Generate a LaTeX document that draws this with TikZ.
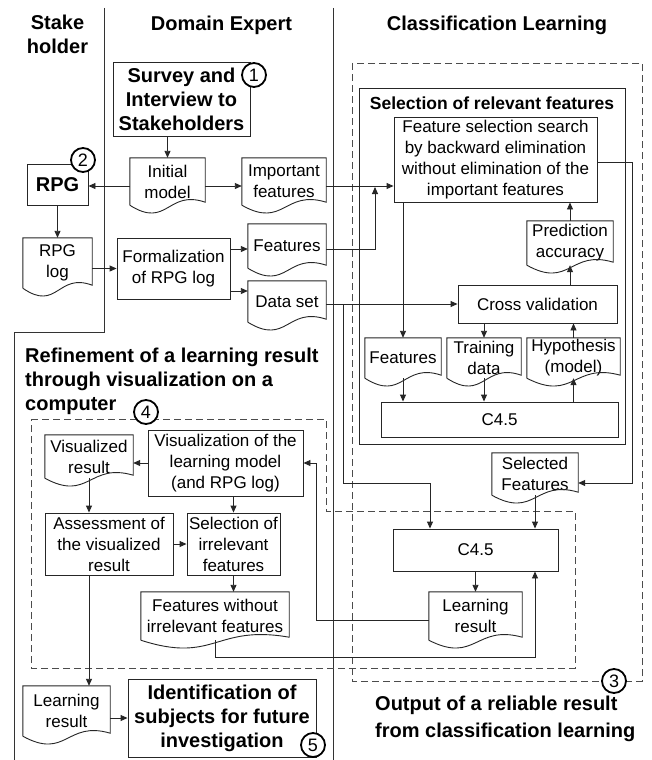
\documentclass[tikz,border=0pt]{standalone}
\usepackage{fontspec}
\setmainfont{Liberation Sans}
\usetikzlibrary{arrows.meta,calc}
\newcommand\bodyf{\fontsize{17}{21}\selectfont}
\newcommand\titf{\fontsize{20}{24}\selectfont\bfseries}
\newcommand\docout[1]{\draw[ln] (#1.south west) -- (#1.north west) -- (#1.north east) -- ($(#1.south east)+(0,-3)$) .. controls ($(#1.south)+(0,-16)$) and ($(#1.south)+(0,24)$) .. (#1.south west);}
\tikzset{
 ln/.style={draw=black!85, line width=0.9pt},
 arr/.style={ln, -{Triangle[length=7pt,width=6pt]}},
 box/.style={draw=black!85, line width=0.9pt, rectangle, inner sep=1pt, align=center, font=\bodyf},
 bbox/.style={box, font=\titf},
 docn/.style={rectangle, inner sep=0.5pt, align=center, font=\bodyf},
 numc/.style={circle, draw=black, line width=1.8pt, fill=white, minimum size=24pt, inner sep=0pt, font=\fontsize{18}{18}\selectfont},
 dbox/.style={draw=black!70, line width=0.9pt, dash pattern=on 7pt off 4pt},
 lane/.style={draw=black!80, line width=0.9pt},
 ttl/.style={font=\titf, align=center, inner sep=0pt},
}
\begin{document}
\begin{tikzpicture}[x=1pt,y=-1pt]
\fill[white] (0,0) rectangle (651,760);
\useasboundingbox (0,0) rectangle (651,760);
% lanes
\draw[lane] (104,8) -- (104,332) -- (14,332) -- (14,760);
\draw[lane] (333,8) -- (333,760);
% dashed regions
\draw[dbox] (352,63) rectangle (642,681);
\draw[dbox] (31,419) -- (326,419) -- (326,511) -- (575,511) -- (575,668) -- (31,668) -- cycle;
% selection container
\draw[ln] (359,88) rectangle (625,444);
\node[font=\fontsize{17.5}{21}\selectfont\bfseries, inner sep=0pt] (seltitle) at (492,103) {Selection of relevant features};
% headers
\node[ttl] (hStake) at (57.5,34) {Stake\\holder};
\node[ttl] (hDom) at (221.5,25) {Domain Expert};
\node[ttl] (hCls) at (497,25) {Classification Learning};
\node[ttl, align=left, anchor=west] (hRef) at (25,381) {Refinement of a learning result\\through visualization on a\\computer};
\node[ttl, align=left, anchor=west, font=\fontsize{20}{27}\selectfont\bfseries] (hOut) at (375,718.5) {Output of a reliable result\\from classification learning};
% process boxes
\node[bbox, minimum width=137, minimum height=74] (survey) at (181.5,99) {Survey and\\Interview to\\Stakeholders};
\node[bbox, minimum width=61, minimum height=41] (rpg) at (57.5,184.5) {RPG};
\node[box, minimum width=113, minimum height=61] (formal) at (173.5,268.5) {Formalization\\of RPG log};
\node[box, minimum width=203, minimum height=85] (fss) at (495.5,159.5) {Feature selection search\\by backward elimination\\without elimination of the\\important features};
\node[box, minimum width=159, minimum height=38] (cv) at (537.5,304) {Cross validation};
\node[box, minimum width=237, minimum height=35] (c45a) at (499.5,419.5) {C4.5};
\node[box, minimum width=165, minimum height=42] (c45b) at (475.5,550) {C4.5};
\node[box, minimum width=155, minimum height=66] (vis) at (225.5,463) {Visualization of the\\learning model\\(and RPG log)};
\node[box, minimum width=128, minimum height=62] (assess) at (109,544) {Assessment of\\the visualized\\result};
\node[box, minimum width=93, minimum height=62] (selirr) at (233.5,544) {Selection of\\irrelevant\\features};
\node[bbox, minimum width=188, minimum height=78] (ident) at (222,718) {Identification of\\subjects for future\\investigation};
% documents
\node[docn, minimum width=75, minimum height=47] (initmodel) at (167.5,181.5) {Initial\\model};
\node[docn, minimum width=84, minimum height=47] (impfeat) at (284,181.5) {Important\\features};
\node[docn, minimum width=69, minimum height=50] (rpglog) at (57.5,263) {RPG\\log};
\node[docn, minimum width=78, minimum height=44] (featA) at (287,246) {Features};
\node[docn, minimum width=78, minimum height=41] (dataset) at (287,301.5) {Data set};
\node[docn, minimum width=86, minimum height=44] (predacc) at (570,243) {Prediction\\accuracy};
\node[docn, minimum width=76, minimum height=40] (featB) at (403,358) {Features};
\node[docn, minimum width=74, minimum height=40] (train) at (484,358) {Training\\data};
\node[docn, minimum width=93, minimum height=40] (hyp) at (573.5,358) {Hypothesis\\(model)};
\node[docn, minimum width=86, minimum height=42] (selfeat) at (535,474) {Selected\\Features};
\node[docn, minimum width=93, minimum height=48] (lrn1) at (475.5,616) {Learning\\result};
\node[docn, minimum width=88, minimum height=43] (visres) at (89,456.5) {Visualized\\result};
\node[docn, minimum width=148, minimum height=48] (fwo) at (215,616) {Features without\\irrelevant features};
\node[docn, minimum width=87, minimum height=50] (lrn2) at (66.5,711) {Learning\\result};
\foreach \d in {initmodel,impfeat,rpglog,featA,dataset,predacc,featB,train,hyp,selfeat,lrn1,visres,fwo,lrn2}{\docout{\d}}
% helper coordinates
\coordinate (jA) at (375,187);
\coordinate (jB) at (343,483);
\coordinate (jC) at (430,483);
\coordinate (jD) at (632,483);
\coordinate (jE) at (316,620);
\coordinate (jF) at (535,657);
\coordinate (imw) at ($(initmodel.west)+(0,4.5)$);
\coordinate (ime) at ($(initmodel.east)+(0,4.5)$);
\coordinate (ifo) at ($(impfeat.east)+(0,4.5)$);
\coordinate (fae) at ($(featA.east)+(0,3)$);
\coordinate (dsw) at ($(dataset.west)+(0,-10.5)$);
\coordinate (fse) at ($(fss.east)+(0,2.5)$);
% connectors
\draw[arr] (survey.south -| initmodel.north) -- (initmodel.north);
\draw[arr] (imw) -- (imw -| rpg.east);
\draw[arr] (ime) -- (ime -| impfeat.west);
\draw[arr] (ifo) -- (ifo -| fss.west);
\draw[arr] (fae) -| (jA);
\draw[arr] (fae -| formal.east) -- (fae -| featA.west);
\draw[arr] (dsw -| formal.east) -- (dsw);
\draw[arr] (rpg.south) -- (rpglog.north);
\draw[arr] (formal.west -| rpglog.east) -- (formal.west);
\draw[arr] (cv.west -| dataset.east) -- (cv.west);
\draw[arr] (jB |- cv.west) -- (jB) -- (jC) -- (jC |- c45b.north);
\draw[arr] (fss.south -| featB.north) -- (featB.north);
\draw[arr] (cv.south -| train.north) -- (train.north);
\draw[arr] (hyp.north) -- (hyp.north |- cv.south);
\draw[arr] (featB.south) -- (featB.south |- c45a.north);
\draw[arr] (train.south) -- (train.south |- c45a.north);
\draw[arr] (hyp.south |- c45a.north) -- (hyp.south);
\draw[arr] (cv.north -| predacc.south) -- (predacc.south);
\draw[arr] (predacc.north) -- (predacc.north |- fss.south);
\draw[arr] (fse) -- (fse -| jD) -- (jD) -- (jD -| selfeat.east);
\draw[arr] (selfeat.south) -- (selfeat.south |- c45b.north);
\draw[arr] (c45b.south -| lrn1.north) -- (lrn1.north);
\draw[arr] (jE -| lrn1.west) -- (jE) -- (jE |- vis.east) -- (vis.east);
\draw[arr] (fwo.south) -- (fwo.south |- jF) -- (jF) -- (jF |- c45b.south);
\draw[arr] (vis.west) -- (vis.west -| visres.east);
\draw[arr] (visres.south) -- (visres.south |- assess.north);
\draw[arr] (selirr.north |- vis.south) -- (selirr.north);
\draw[arr] (assess.east) -- (selirr.west);
\draw[arr] (selirr.south) -- (selirr.south |- fwo.north);
\draw[arr] (assess.south -| visres.south) -- (visres.south |- lrn2.north);
\draw[arr] (ident.west -| lrn2.east) -- (ident.west);
% number circles
\node[numc] (n1) at (254,75) {1};
\node[numc] (n2) at (83,160) {2};
\node[numc] (n3) at (614,681) {3};
\node[numc] (n4) at (146,412) {4};
\node[numc] (n5) at (313,745) {5};
\end{tikzpicture}
\end{document}
